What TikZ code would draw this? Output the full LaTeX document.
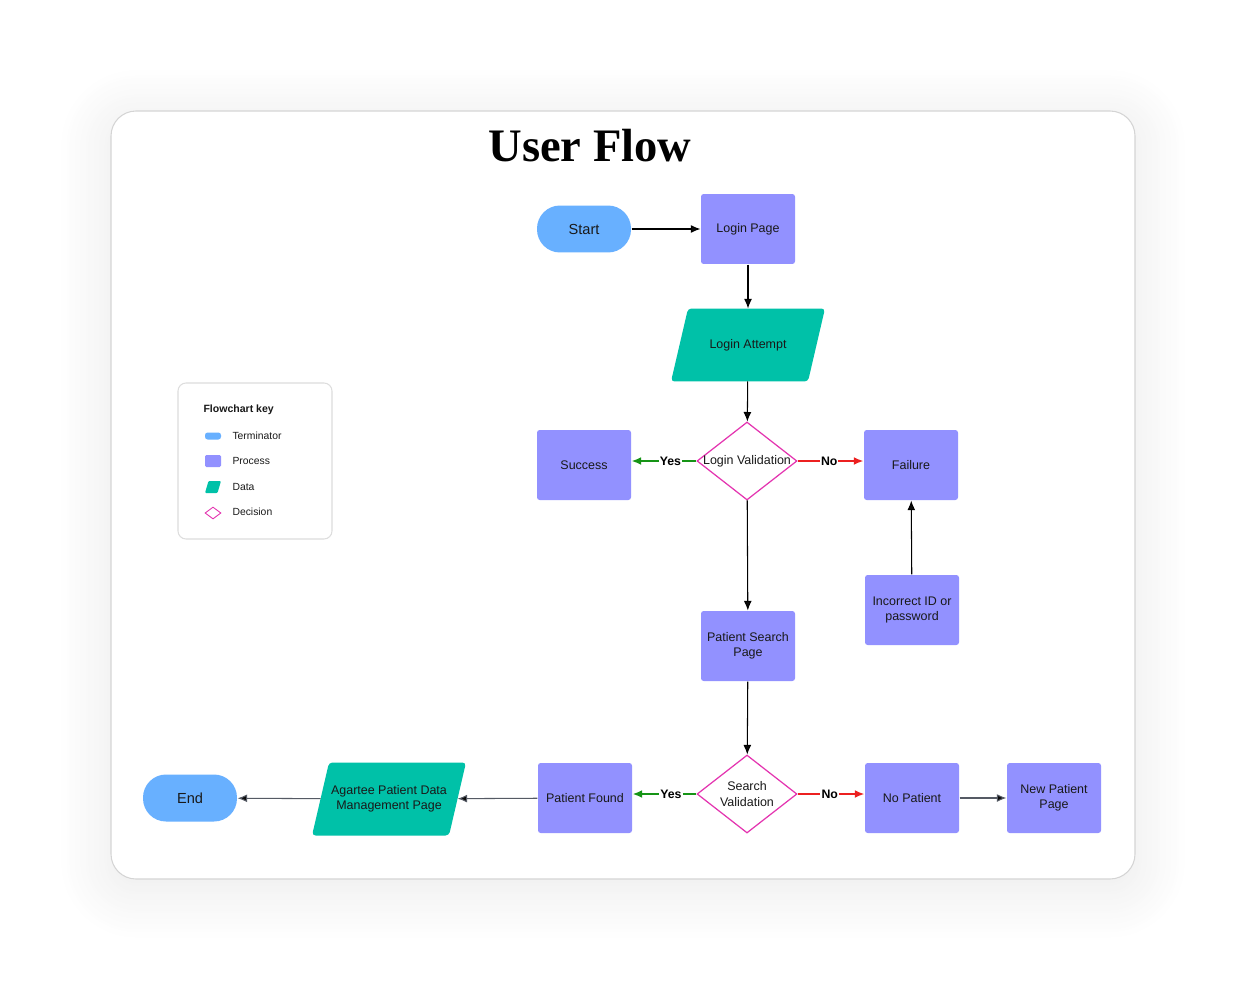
\documentclass[tikz,border=0pt]{standalone}
\usepackage{fontspec}
\setmainfont{Liberation Sans}
\newfontfamily\titlefont{Liberation Serif}
\usetikzlibrary{arrows.meta}
\usetikzlibrary{shapes}
\usetikzlibrary{shadows.blur}

\definecolor{termblue}{RGB}{104,176,255}
\definecolor{procpurple}{RGB}{146,145,255}
\definecolor{datateal}{RGB}{0,193,168}
\definecolor{decpink}{RGB}{228,52,176}
\definecolor{yesgreen}{RGB}{22,148,22}
\definecolor{nored}{RGB}{236,32,32}
\definecolor{arrowgray}{RGB}{85,90,100}
\definecolor{cardgray}{RGB}{212,212,212}
\definecolor{txt}{RGB}{25,25,25}

\tikzset{
  dataslant/.store in=\dataslant, dataslant=0.34cm,
  dataround/.store in=\dataround, dataround=2pt,
  datafill/.style={path picture={\fill[datateal, rounded corners=\dataround] ([xshift=\dataslant]path picture bounding box.north west) -- (path picture bounding box.north east) -- ([xshift=-\dataslant]path picture bounding box.south east) -- (path picture bounding box.south west) -- cycle;}},
  terminator/.style={rectangle, rounded corners=0.46cm, fill=termblue, minimum width=1.88cm, minimum height=0.94cm, inner sep=0pt, text=txt, font=\fontsize{8.3}{10}\selectfont},
  process/.style={rectangle, rounded corners=1.5pt, fill=procpurple, minimum width=1.88cm, minimum height=1.4cm, inner sep=0pt, align=center, text=txt, font=\fontsize{7.1}{8.6}\selectfont},
  data/.style={rectangle, datafill, minimum width=3.08cm, minimum height=1.46cm, inner sep=0pt, outer xsep=-0.17cm, outer ysep=0pt, align=center, text=txt, font=\fontsize{7.1}{8.6}\selectfont},
  decision/.style={diamond, draw=decpink, line width=0.7pt, fill=white, minimum width=2cm, minimum height=1.56cm, inner sep=0pt},
  dectext/.style={align=center, inner sep=0pt, text=txt, font=\fontsize{7.1}{8.6}\selectfont},
  answer/.style={fill=white, inner sep=0.6pt, text=black, font=\bfseries\fontsize{7}{8}\selectfont},
  keytext/.style={anchor=west, inner sep=0pt, text=txt, font=\fontsize{5.9}{7}\selectfont},
}

\begin{document}
\begin{tikzpicture}[x=0.02cm, y=-0.02cm, >={Latex[length=5.5pt,width=4.5pt]}, line width=0.6pt]
	\useasboundingbox (0,0) rectangle (1246,990);
	%Card
	\draw[cardgray, line width=0.6pt, fill=white, rounded corners=0.5cm, blur shadow={shadow xshift=0pt, shadow yshift=-5pt, shadow blur radius=30pt, shadow blur steps=20, shadow opacity=9}] (111,111) rectangle (1135,879);
	\node [inner sep=0pt, text=black, font=\titlefont\bfseries\fontsize{26.5}{30}\selectfont] (title) at (590,146) {User Flow};
	%Flowchart key
	\draw[cardgray!80, line width=0.6pt, rounded corners=0.16cm] (178,383) rectangle (332,539);
	\node [keytext, font=\bfseries\fontsize{6}{7}\selectfont] (keyhead) at (203,410) {Flowchart key};
	\node [rectangle, rounded corners=1.5pt, fill=termblue, minimum width=0.32cm, minimum height=0.14cm, inner sep=0pt] (keyterm) at (213,436) {};
	\node [rectangle, rounded corners=0.8pt, fill=procpurple, minimum width=0.32cm, minimum height=0.24cm, inner sep=0pt] (keyproc) at (213,461) {};
	\node [rectangle, dataslant=0.07cm, dataround=0.6pt, datafill, minimum width=0.32cm, minimum height=0.24cm, inner sep=0pt] (keydata) at (213,487) {};
	\node [diamond, draw=decpink, line width=0.5pt, minimum width=0.32cm, minimum height=0.24cm, inner sep=0pt] (keydec) at (213,513) {};
	\node [keytext] (keyterml) at (232,436) {Terminator};
	\node [keytext] (keyprocl) at (232,461) {Process};
	\node [keytext] (keydatal) at (232,487) {Data};
	\node [keytext] (keydecl) at (232,512) {Decision};
	%Login
	\node [terminator] (start) at (584,229) {Start};
	\node [process] (loginpage) at (748,229) {Login Page};
	\node [data] (attempt) at (748,345) {Login Attempt};
	\node [decision, label={[dectext]center:Login Validation}] (logval) at (747,461) {};
	\node [process] (success) at (584,465) {Success};
	\node [process] (failure) at (911,465) {Failure};
	\node [process] (incorrect) at (912,610) {Incorrect ID or\\password};
	\draw[->] (start) edge (loginpage);
	\draw[->] (loginpage) edge (attempt);
	\draw[->] (attempt) edge (logval);
	\draw[->, yesgreen, line width=1pt] (logval.west) -- node [answer, pos=0.4] {Yes} (logval.west -| success.east);
	\draw[->, nored, line width=1pt] (logval.east) -- node [answer, pos=0.48] {No} (logval.east -| failure.west);
	\draw[->] (incorrect) edge (failure);
	%Search
	\node [process] (search) at (748,646) {Patient Search\\Page};
	\node [decision, label={[dectext]center:Search\\Validation}] (searchval) at (747,794) {};
	\node [process] (found) at (585,798) {Patient Found};
	\node [process] (nopatient) at (912,798) {No Patient};
	\node [process] (newpatient) at (1054,798) {New Patient\\Page};
	\node [data] (manage) at (389,799) {Agartee Patient Data\\Management Page};
	\node [terminator] (end) at (190,798) {End};
	\draw[->] (logval) edge (search);
	\draw[->] (search) edge (searchval);
	\draw[->, yesgreen, line width=1pt] (searchval.west) -- node [answer, pos=0.4] {Yes} (searchval.west -| found.east);
	\draw[->, nored, line width=1pt] (searchval.east) -- node [answer, pos=0.48] {No} (searchval.east -| nopatient.west);
	\draw[->, arrowgray] (nopatient) edge (newpatient);
	\draw[->, arrowgray] (found) edge (manage);
	\draw[->, arrowgray] (manage) edge (end);
\end{tikzpicture}
\end{document}
